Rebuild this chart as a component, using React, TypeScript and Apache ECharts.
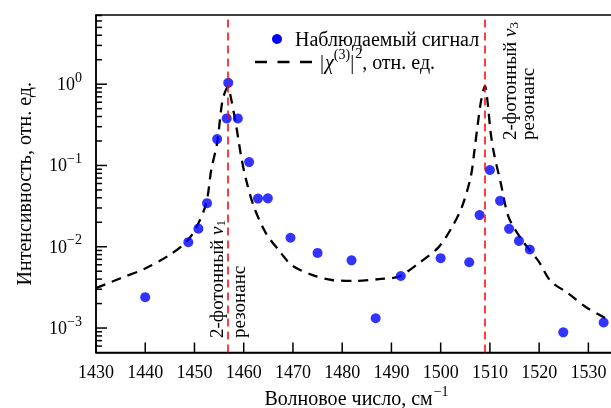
import React, { useEffect, useRef } from 'react';
import * as echarts from 'echarts';

const FONT = 'Liberation Serif';

// Observed signal (wavenumber, intensity)
const signalX = [1440, 1448.75, 1450.8, 1452.55, 1454.6, 1456.55, 1456.86, 1458.8, 1461.1, 1462.9, 1464.9, 1469.5, 1475.0, 1481.9, 1486.8, 1491.9, 1500.0, 1505.8, 1507.9, 1510.0, 1512.06, 1513.9, 1515.9, 1518.1, 1524.9, 1533.1];
const signalY = [0.0024, 0.0114, 0.0167, 0.0344, 0.211, 0.379, 1.04, 0.379, 0.110, 0.0391, 0.0394, 0.0129, 0.0084, 0.0068, 0.00132, 0.00437, 0.00723, 0.00645, 0.0245, 0.0879, 0.0367, 0.0166, 0.0118, 0.00925, 0.000885, 0.00117];

// |chi(3)|^2 curve
const curveX = [1430, 1435, 1440, 1444.9, 1448.3, 1450.4, 1452.4, 1453.4, 1454.6, 1455.6, 1456.2, 1456.8, 1457.4, 1458.5, 1459.5, 1460.5, 1462.1, 1464.5, 1467.1, 1469.8, 1473.9, 1477.9, 1482.8, 1487.5, 1491.5, 1495.6, 1499.6, 1502.3, 1504.3, 1506.1, 1506.8, 1507.5, 1508.2, 1509.0, 1509.6, 1510.1, 1510.8, 1512.2, 1513.8, 1516.5, 1519.9, 1522.3, 1525.8, 1529.4, 1533.3, 1535];
const curveY = [0.0031, 0.0041, 0.0054, 0.0079, 0.0114, 0.0174, 0.0345, 0.088, 0.189, 0.589, 0.80, 0.92, 0.68, 0.30, 0.127, 0.066, 0.0307, 0.0147, 0.0091, 0.0059, 0.0045, 0.0039, 0.0038, 0.0040, 0.0043, 0.0063, 0.0099, 0.0174, 0.0307, 0.072, 0.143, 0.31, 0.62, 0.95, 0.55, 0.27, 0.143, 0.061, 0.0232, 0.0121, 0.0066, 0.0038, 0.0027, 0.00183, 0.00134, 0.00122];

const resonanceX = [1456.8, 1509.0];
const xMin = 1430;
const xMax = 1535;
const xTicks = [1430, 1440, 1450, 1460, 1470, 1480, 1490, 1500, 1510, 1520, 1530];
const yDecades = [-3, -2, -1, 0];
const minorMantissas = [2, 3, 4, 5, 6, 7, 8, 9];
const minorDecades = [-4, -3, -2, -1, 0];
const yMinValue = 0.0005;
const yMaxValue = 7.1;

const SIGNAL_NAME = 'Наблюдаемый сигнал';
const CURVE_NAME = '|χ(3)|2, отн. ед.';
const X_TITLE = 'Волновое число, см';
const X_TITLE_SUP = '−1';
const Y_TITLE = 'Интенсивность, отн. ед.';
const NOTE_LINE1 = '2-фотонный';
const NOTE_LINE2 = 'резонанс';
const NOTE_SUBS = ['1', '3'];

let measureCtx: CanvasRenderingContext2D | null = null;
function measure(text: string, size: number, italic = false): number {
  if (!measureCtx) measureCtx = document.createElement('canvas').getContext('2d');
  if (!measureCtx) return text.length * size * 0.5;
  measureCtx.font = (italic ? 'italic ' : '') + size + 'px ' + FONT;
  return measureCtx.measureText(text).width;
}

export default function App() {
  const ref = useRef<HTMLDivElement>(null);

  useEffect(() => {
    if (!ref.current) return;
    const chart = echarts.init(ref.current, undefined, { renderer: 'svg' });
    const yMin = Math.log10(yMinValue);
    const yMax = Math.log10(yMaxValue);

    const baseSeries: any[] = [
      {
        name: CURVE_NAME, type: 'line', z: 2, silent: true, emphasis: { disabled: true },
        data: curveX.map((x, i) => [x, Math.log10(curveY[i])]),
        symbol: 'none', smooth: 0.3,
        lineStyle: { color: '#000', width: 2.3, type: [10, 7] },
        itemStyle: { color: '#000' },
        markLine: {
          silent: true, symbol: ['none', 'none'], label: { show: false }, emphasis: { disabled: true },
          lineStyle: { color: '#ff0000', width: 1.5, type: [8, 5] },
          data: resonanceX.map((x) => ({ xAxis: x })),
        },
      },
      {
        name: SIGNAL_NAME, type: 'scatter', z: 3, silent: true, emphasis: { disabled: true },
        data: signalX.map((x, i) => [x, Math.log10(signalY[i])]),
        symbol: 'circle', symbolSize: 10,
        itemStyle: { color: '#0000ff' },
      },
    ];
    const base: any = {
      animation: false,
      grid: { left: 96, right: -2, top: 15, bottom: 55.5, outerBoundsMode: 'none', containLabel: false, show: true, borderColor: '#000', borderWidth: 1.5, backgroundColor: 'transparent' },
      xAxis: {
        type: 'value', min: xMin, max: xMax,
        axisLine: { show: true, onZero: false, lineStyle: { color: '#000', width: 1.5 } },
        axisTick: { show: false }, axisLabel: { show: false }, splitLine: { show: false },
      },
      yAxis: {
        type: 'value', min: yMin, max: yMax,
        axisLine: { show: true, onZero: false, lineStyle: { color: '#000', width: 1.5 } },
        axisTick: { show: false }, axisLabel: { show: false }, splitLine: { show: false },
      },
      series: baseSeries,
    };
    chart.setOption(base);

    const toPx = (x: number, y: number) => chart.convertToPixel({ xAxisIndex: 0, yAxisIndex: 0 }, [x, y]) as number[];
    const origin = toPx(xMin, yMin);
    const leftX = origin[0];
    const bottomY = origin[1];

    // ticks: [x, y, dx(px), dy(px)]
    const tickData: number[][] = [];
    xTicks.forEach((x) => tickData.push([x, yMin, 0, -10]));
    yDecades.forEach((d) => tickData.push([xMin, d, 11, 0]));
    minorDecades.forEach((d) => {
      minorMantissas.forEach((m) => {
        const v = Math.log10(m) + d;
        if (v > yMin + 0.005 && v < yMax - 0.005) tickData.push([xMin, v, 6, 0]);
      });
    });

    const g: any[] = [];
    const txt = (text: string, cx: number, cy: number, size: number, opts: any = {}) => {
      const w = measure(text, size, !!opts.italic);
      const style: any = { text, fontFamily: FONT, fontSize: size, fill: '#000' };
      if (opts.italic) style.fontStyle = 'italic';
      if (opts.rotate) {
        const startY = opts.align === 'center' ? cy + w / 2 : cy;
        g.push({ type: 'text', x: cx - size / 2, y: startY, rotation: Math.PI / 2, style });
      } else {
        const left = opts.align === 'center' ? cx - w / 2 : opts.align === 'right' ? cx - w : cx;
        g.push({ type: 'text', x: left, y: cy - size / 2, style });
      }
    };

    xTicks.forEach((x) => txt(String(x), toPx(x, yMin)[0], bottomY + 19, 18, { align: 'center' }));
    const labelRight = leftX - 14;
    yDecades.forEach((d) => {
      const py = toPx(xMin, d)[1];
      const sup = d === 0 ? '0' : '−' + String(-d);
      const wSup = measure(sup, 14);
      txt(sup, labelRight, py - 7, 14, { align: 'right' });
      txt('10', labelRight - wSup, py, 18, { align: 'right' });
    });
    const wTitle = measure(X_TITLE, 20);
    const wTitleSup = measure(X_TITLE_SUP, 14);
    const titleStart = 356 - (wTitle + wTitleSup) / 2;
    txt(X_TITLE, titleStart, 398, 20);
    txt(X_TITLE_SUP, titleStart + wTitle + 1, 391, 14);
    txt(Y_TITLE, 24, (15 + bottomY) / 2, 20, { align: 'center', rotate: true });

    // legend
    g.push({ type: 'circle', shape: { cx: 277, cy: 39, r: 5 }, style: { fill: '#0000ff' } });
    txt(SIGNAL_NAME, 295, 39, 20);
    g.push({ type: 'line', shape: { x1: 255, y1: 62, x2: 312, y2: 62 }, style: { stroke: '#000', lineWidth: 2.5, lineDash: [12, 10.5] } });
    let cx = 320;
    const pieces: [string, number, boolean, number][] = [
      ['|', 20, false, 0], ['χ', 20, true, 0], ['(3)', 14, false, -8], ['|', 20, false, 0], ['2', 14, false, -9], [', отн. ед.', 20, false, 0],
    ];
    pieces.forEach(([t, s, it, dy]) => {
      txt(t, cx, 62 + dy, s, { italic: it });
      cx += measure(t, s, it) + (t === '|' ? 1 : 0);
    });

    // resonance annotations (rotated)
    const notes = [
      { x1: 216, x2: 238, y: 338, sub: NOTE_SUBS[0] },
      { x1: 509, x2: 527, y: 140, sub: NOTE_SUBS[1] },
    ];
    notes.forEach((n) => {
      const w1 = measure(NOTE_LINE1 + ' ', 19);
      const wNu = measure('ν', 19, true);
      txt(NOTE_LINE1, n.x1, n.y, 19, { rotate: true });
      txt('ν', n.x1, n.y - w1, 19, { rotate: true, italic: true });
      txt(n.sub, n.x1 + 4, n.y - w1 - wNu, 13, { rotate: true });
      txt(NOTE_LINE2, n.x2, n.y, 19, { rotate: true });
    });

    chart.setOption({
      ...base,
      series: [
        ...baseSeries,
        {
          type: 'custom',
          dimensions: ['x', 'y', 'dx', 'dy'],
          data: tickData,
          renderItem: (params: any, api: any) => {
            const p = api.coord([api.value(0), api.value(1)]);
            return {
              type: 'line',
              shape: { x1: p[0], y1: p[1], x2: p[0] + api.value(2), y2: p[1] + api.value(3) },
              style: { stroke: '#000', lineWidth: 1.5 },
            };
          },
        },
      ],
      graphic: g,
    }, true);

    return () => chart.dispose();
  }, []);

  return <div ref={ref} style={{ position: 'fixed', left: 0, top: 0, width: 611, height: 408 }} />;
}
